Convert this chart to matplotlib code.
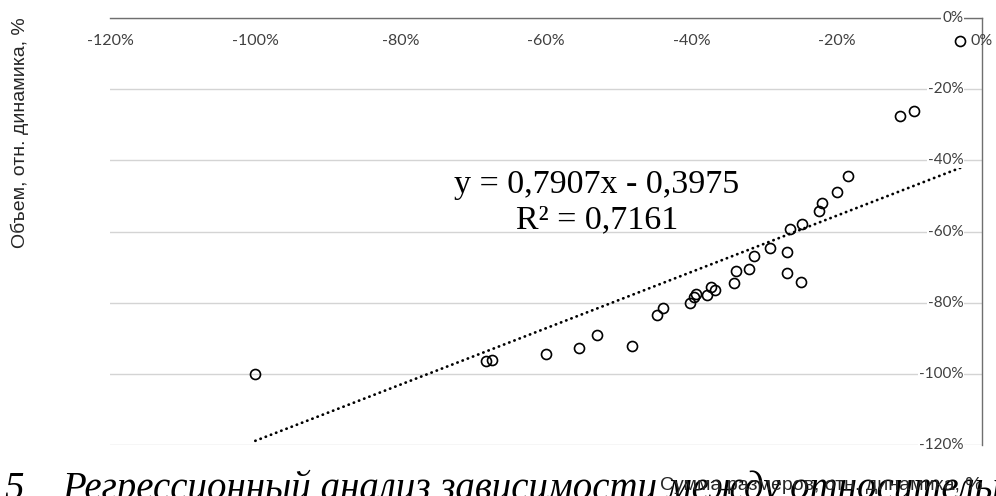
import matplotlib
matplotlib.use("Agg")
import matplotlib.pyplot as plt
import numpy as np
from matplotlib.ticker import FixedLocator

# Relative dynamics, percent
size_change = [-100, -68.2, -67.4, -60.0, -55.5, -53.0, -48.1, -44.7, -43.9,
               -40.2, -39.6, -39.4, -37.8, -37.3, -36.7, -34.1, -33.8, -32.0,
               -31.4, -29.2, -26.9, -26.9, -24.9, -26.4, -24.8, -22.4, -22.0,
               -20.0, -18.5, -11.3, -9.4, -3.0]
volume_change = [-100, -96.3, -96.0, -94.3, -92.7, -89.1, -92.2, -83.5, -81.6,
                 -80.2, -78.5, -77.6, -77.9, -75.5, -76.4, -74.4, -71.1, -70.5,
                 -66.9, -64.7, -65.7, -71.8, -74.1, -59.4, -57.9, -54.2, -52.1,
                 -48.9, -44.3, -27.5, -26.1, -6.5]

# Linear trend reported for the data
slope = 0.7907
intercept = -0.3975
r_squared = 0.7161

x_ticks = [-120, -100, -80, -60, -40, -20, 0]
y_ticks = [0, -20, -40, -60, -80, -100, -120]

x_title = "Сумма размеров, отн. динамика, %"
y_title = "Объем, отн. динамика, %"
caption_num = "5"
caption = "Регрессионный анализ зависимости между относительной динамикой"

x = np.array(size_change) / 100.0
y = np.array(volume_change) / 100.0

fig = plt.figure(figsize=(9.96, 4.96), dpi=100)
ax = fig.add_axes([110 / 996, 1 - 445 / 496, 872 / 996, 427 / 496])
ax.set_xlim(-1.2, 0)
ax.set_ylim(-1.2, 0)

for side in ("left", "bottom"):
    ax.spines[side].set_visible(False)
for side in ("top", "right"):
    ax.spines[side].set_color("#6f6f6f")
    ax.spines[side].set_linewidth(1.0)

ax.xaxis.set_major_locator(FixedLocator([v / 100 for v in x_ticks]))
ax.yaxis.set_major_locator(FixedLocator([v / 100 for v in y_ticks]))
ax.tick_params(axis="both", length=0, labelbottom=False, labelleft=False,
               labeltop=False, labelright=False)
ax.grid(axis="y", color="#d4d4d4", linewidth=1.0)
ax.set_axisbelow(True)

x_tick_font = dict(family=["Lato", "DejaVu Sans"], size=11.5, color="#404040")
y_tick_font = dict(family=["Liberation Sans Narrow", "Lato", "DejaVu Sans"],
                   size=11, color="#404040")

# x tick labels sit just under the top axis line
for v in x_ticks:
    ax.annotate(f"{v}%", xy=(v / 100, 1.0), xycoords=("data", "axes fraction"),
                xytext=(0, -16.5), textcoords="offset points",
                ha="center", va="center", **x_tick_font)

# y tick labels sit left of the right axis line, over the gridlines
for v in y_ticks:
    ax.annotate(f"{v}%", xy=(1.0, v / 100), xycoords=("axes fraction", "data"),
                xytext=(-13.5, 0), textcoords="offset points",
                ha="right", va="center",
                bbox=dict(boxstyle="square,pad=0.05", fc="white", ec="none"),
                **y_tick_font)

# Trend line across the data range
xt = np.linspace(x.min(), x.max(), 50)
ax.plot(xt, slope * xt + intercept, color="black", linewidth=2.0,
        linestyle=(0, (0.1, 1.9)), dash_capstyle="round", zorder=2)

ax.plot(x, y, linestyle="none", marker="o", markersize=7.2,
        markerfacecolor="none", markeredgecolor="black",
        markeredgewidth=1.2, zorder=3)

eq = (f"y = {str(slope).replace('.', ',')}x - "
      f"{str(abs(intercept)).replace('.', ',')}\n"
      f"R² = {str(r_squared).replace('.', ',')}")
ax.text(0.5585, 0.568, eq, transform=ax.transAxes, ha="center", va="center",
        multialignment="center", linespacing=1.2,
        family=["Liberation Serif", "DejaVu Serif"], size=24.5)

fig.text(20 / 996, 1 - 133 / 496, y_title, rotation=90, ha="center",
         va="center", family=["Liberation Sans", "DejaVu Sans"], size=14,
         color="#262626")

# Caption from the surrounding page, cut by the lower edge
serif_it = dict(family=["Liberation Serif", "DejaVu Serif"], size=28,
                style="italic", va="baseline", ha="left")
fig.text(4 / 996, -3 / 496, caption_num, **serif_it)
fig.text(62 / 996, -3 / 496, caption, **serif_it)

fig.text(821 / 996, 1 - 486 / 496, x_title, ha="center", va="center",
         family=["Liberation Sans Narrow", "Liberation Sans", "DejaVu Sans"],
         size=14, color="#262626")

fig.savefig("out.png", dpi=100)
